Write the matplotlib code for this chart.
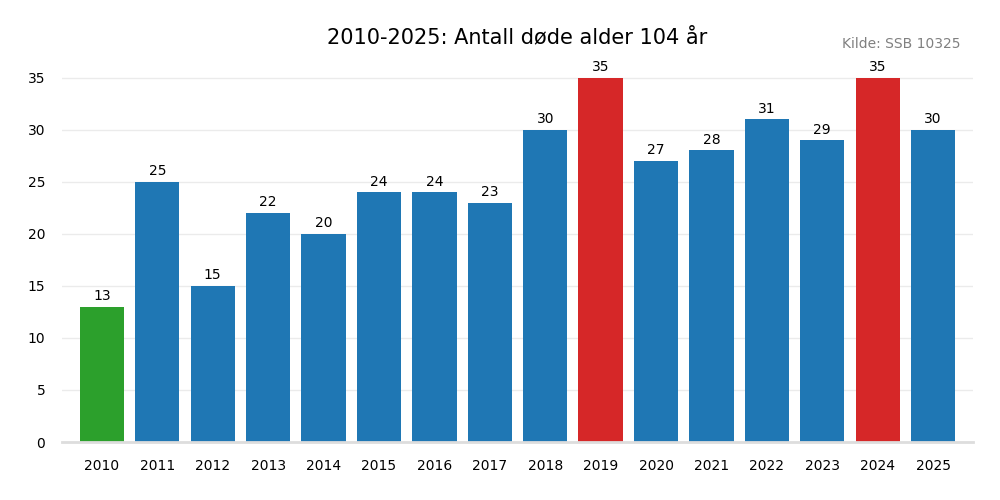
import matplotlib
matplotlib.use("Agg")
import matplotlib.pyplot as plt

years = [str(y) for y in range(2010, 2026)]
deaths = [13, 25, 15, 22, 20, 24, 24, 23, 30, 35, 27, 28, 31, 29, 35, 30]

colors = []
for v in deaths:
    if v == max(deaths):
        colors.append("#d62728")
    elif v == min(deaths):
        colors.append("#2ca02c")
    else:
        colors.append("#1f77b4")

fig = plt.figure(figsize=(10, 5), dpi=100)
ax = fig.add_axes([0.062, 0.116, 0.911, 0.76])

x = range(len(years))
bars = ax.bar(x, deaths, width=0.8, color=colors, zorder=2)
for b, v in zip(bars, deaths):
    ax.annotate(str(v), (b.get_x() + b.get_width() / 2, v),
                xytext=(0, 2.5), textcoords="offset points",
                ha="center", va="bottom", fontsize=10)

ax.set_xticks(list(x))
ax.set_xticklabels(years)
ax.set_xlim(-0.72, len(years) - 1 + 0.72)
ax.set_ylim(0, 36.5)
ax.set_yticks(range(0, 36, 5))
ax.tick_params(axis="both", length=0, labelsize=10)
ax.tick_params(axis="x", pad=12)
ax.tick_params(axis="y", pad=12)
ax.grid(axis="y", color="#ebebeb", linewidth=1, zorder=0)

for s in ["top", "right", "left"]:
    ax.spines[s].set_visible(False)
ax.spines["bottom"].set_color("#dddddd")
ax.spines["bottom"].set_linewidth(2)

fig.text(0.517, 0.925, "2010-2025: Antall døde alder 104 år",
         ha="center", va="center", fontsize=15)
fig.text(0.96, 0.913, "Kilde: SSB 10325", ha="right", va="center",
         fontsize=10, color="gray")

fig.savefig("out.png", dpi=100)
